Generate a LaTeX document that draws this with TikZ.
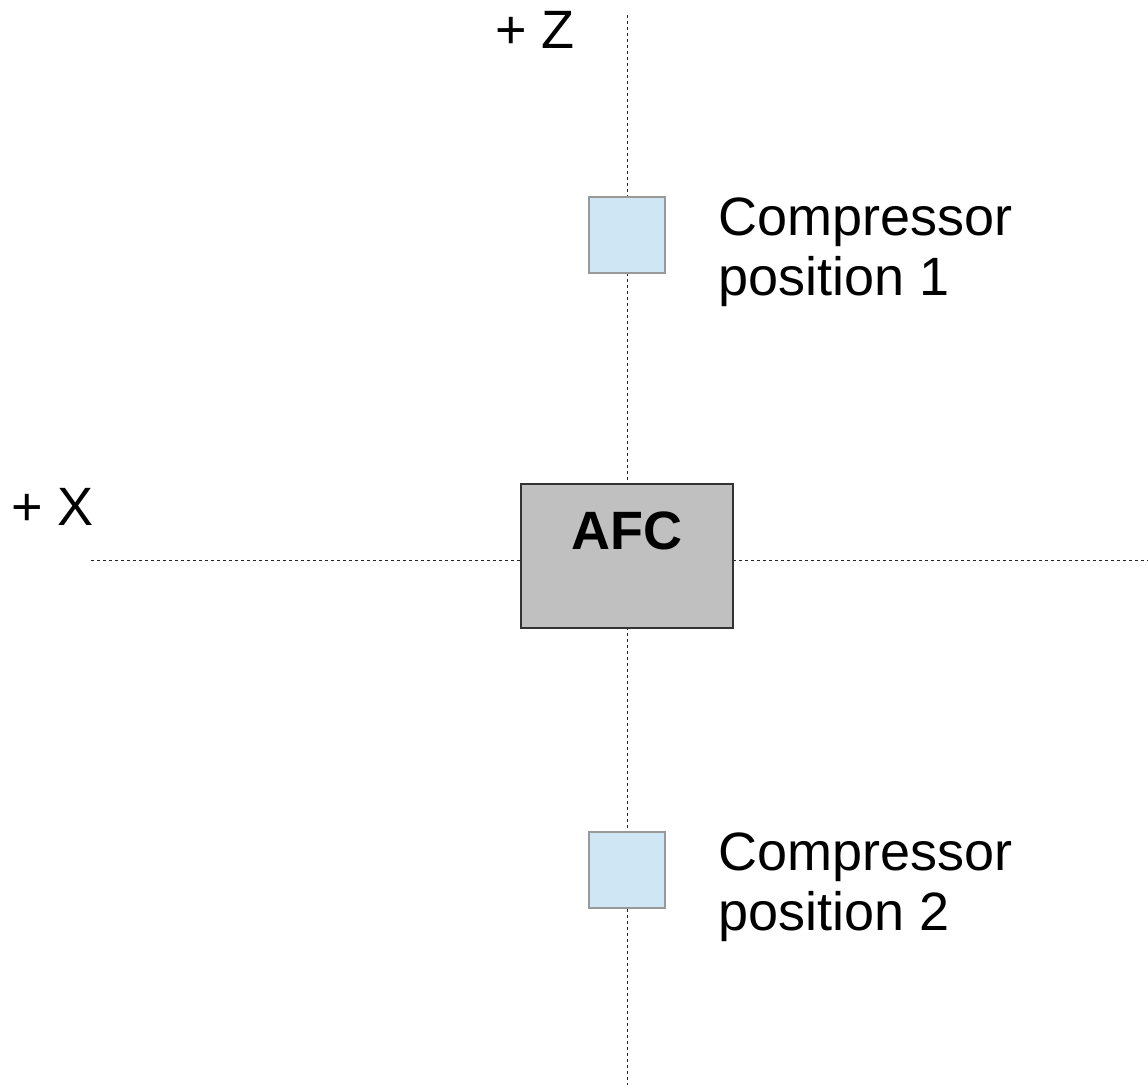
\documentclass[tikz,border=0pt]{standalone}
\usepackage{fontspec}
\setmainfont{Liberation Sans}
\definecolor{afcgray}{HTML}{C0C0C0}
\definecolor{afcedge}{HTML}{333333}
\definecolor{compblue}{HTML}{CFE6F4}
\definecolor{compedge}{HTML}{999999}
\begin{document}
\begin{tikzpicture}[x=1pt,y=-1pt,
  axis/.style={draw=black!85, line width=0.9pt, dash pattern=on 3pt off 3pt},
  afcbox/.style={draw=afcedge, fill=afcgray, line width=1.2pt,
    minimum width=212pt, minimum height=144pt, inner sep=0pt},
  compbox/.style={draw=compedge, fill=compblue, line width=1.1pt,
    minimum width=76pt, minimum height=76pt, inner sep=0pt},
  lbl/.style={font=\fontsize{54}{60}\selectfont, inner sep=0pt},
  multi/.style={lbl, align=left, anchor=base west}]
\useasboundingbox (0,0) rectangle (1148,1085);

% axes
\coordinate (ztop) at (627,15);
\coordinate (zbot) at (627,1085);
\coordinate (xleft) at (91,560);
\coordinate (xright) at (1148,560);
\draw[axis] (ztop) -- (zbot);
\draw[axis] (xleft) -- (xright);

% axis labels
\node[lbl, anchor=base west] (zlabel) at (495,48) {+ Z};
\node[lbl, anchor=base west] (xlabel) at (11,525) {+ X};

% AFC unit
\node[afcbox] (afc) at (627,556) {};
\node[lbl, font=\fontsize{54}{60}\selectfont\bfseries, anchor=base] (afclabel) at (627,549) {AFC};

% compressor positions
\node[compbox] (comp1) at (627,235) {};
\node[compbox] (comp2) at (627,870) {};
\node[multi] (comp1label) at (718,295) {Compressor\\position 1};
\node[multi] (comp2label) at (718,930) {Compressor\\position 2};
\end{tikzpicture}
\end{document}
